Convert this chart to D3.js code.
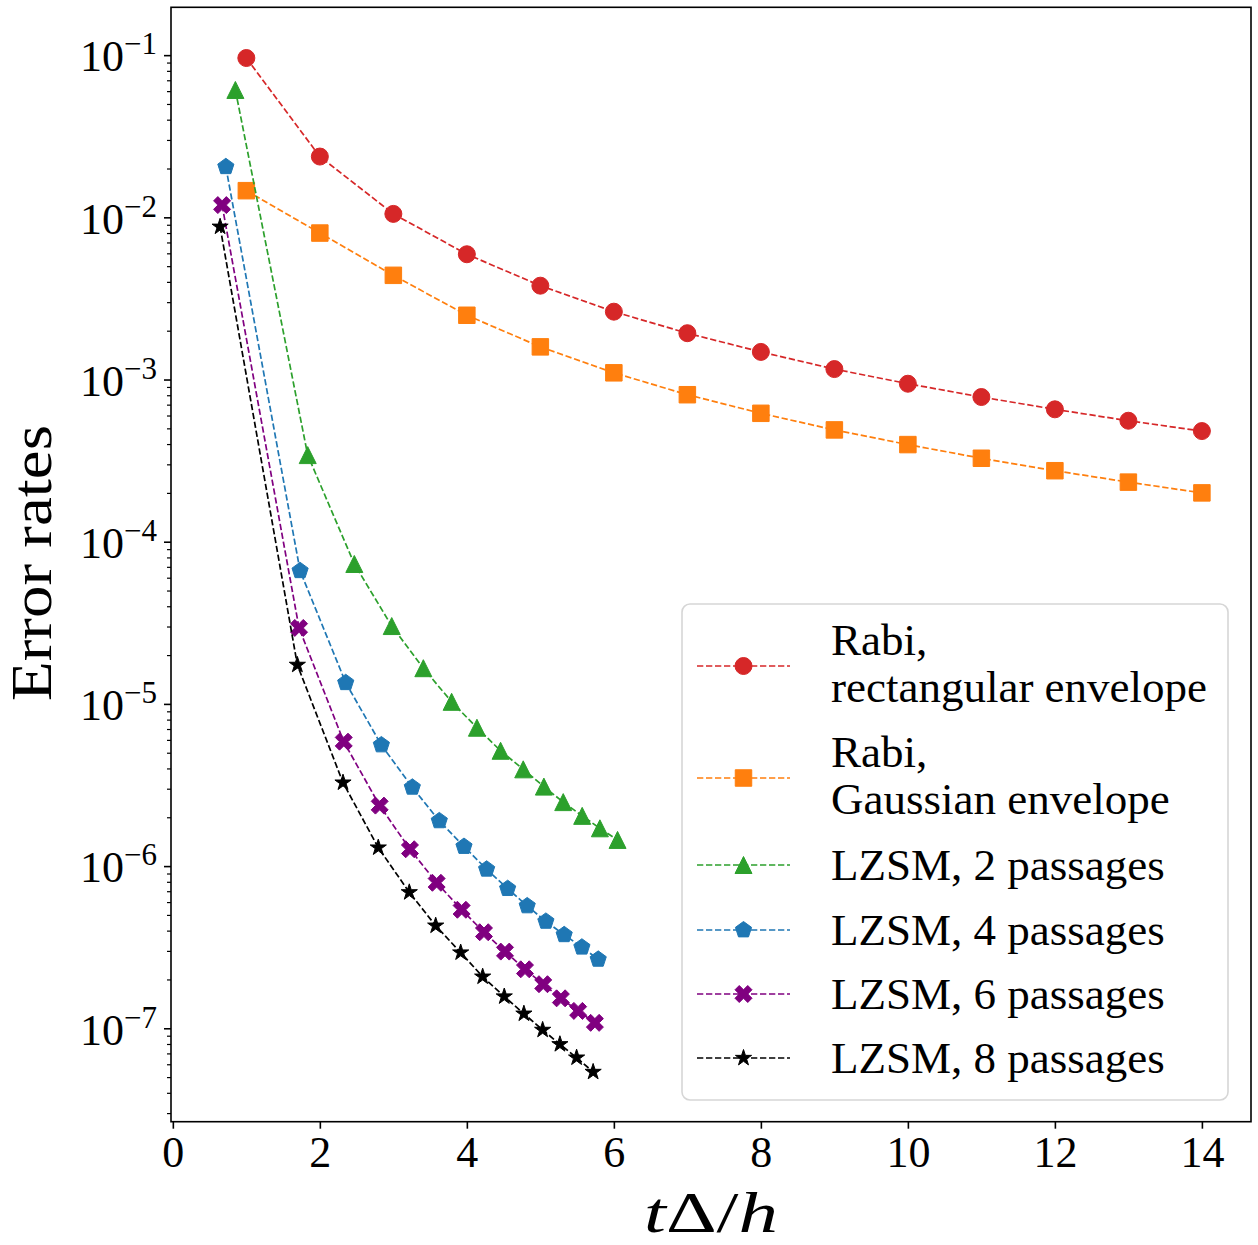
<!DOCTYPE html>
<html>
<head>
<meta charset="utf-8">
<script src="https://cdn.jsdelivr.net/npm/d3@7"></script>
<style>
  html, body { margin: 0; padding: 0; background: #ffffff; }
  svg { display: block; font-family: "Liberation Serif", "DejaVu Serif", serif; }
</style>
</head>
<body>
<div id="chart"></div>
<script>
// ---------------- DATA ----------------
const xTicks = [0, 2, 4, 6, 8, 10, 12, 14];
const yTickExponents = [-1, -2, -3, -4, -5, -6, -7];

const xRabi = [1, 2, 3, 4, 5, 6, 7, 8, 9, 10, 11, 12, 13, 14];
const rabiRect = [9.6e-2, 2.37e-2, 1.05e-2, 5.92e-3, 3.79e-3, 2.62e-3, 1.93e-3, 1.48e-3, 1.16e-3, 9.42e-4, 7.80e-4, 6.55e-4, 5.57e-4, 4.81e-4];
const rabiGauss = [1.46e-2, 8.0e-3, 4.39e-3, 2.49e-3, 1.59e-3, 1.10e-3, 8.06e-4, 6.19e-4, 4.89e-4, 3.97e-4, 3.27e-4, 2.74e-4, 2.33e-4, 2.00e-4];

const xLZ2 = [0.851, 1.835, 2.469, 2.978, 3.408, 3.793, 4.137, 4.459, 4.767, 5.048, 5.311, 5.569, 5.810, 6.050];
const lz2 = [6.1e-2, 3.42e-4, 7.29e-5, 3.02e-5, 1.66e-5, 1.03e-5, 7.13e-6, 5.14e-6, 3.95e-6, 3.09e-6, 2.48e-6, 2.04e-6, 1.71e-6, 1.45e-6];

const xLZ4 = [0.721, 1.731, 2.352, 2.837, 3.258, 3.625, 3.961, 4.269, 4.555, 4.821, 5.075, 5.324, 5.565, 5.787];
const lz4 = [2.05e-2, 6.62e-5, 1.35e-5, 5.58e-6, 3.06e-6, 1.90e-6, 1.32e-6, 9.56e-7, 7.26e-7, 5.68e-7, 4.56e-7, 3.77e-7, 3.16e-7, 2.66e-7];

const xLZ6 = [0.670, 1.717, 2.325, 2.814, 3.226, 3.589, 3.929, 4.233, 4.519, 4.791, 5.039, 5.279, 5.514, 5.742];
const lz6 = [1.19e-2, 2.94e-5, 5.85e-6, 2.36e-6, 1.27e-6, 7.89e-7, 5.38e-7, 3.91e-7, 2.97e-7, 2.31e-7, 1.87e-7, 1.53e-7, 1.28e-7, 1.08e-7];

const xLZ8 = [0.643, 1.694, 2.315, 2.795, 3.217, 3.576, 3.916, 4.215, 4.509, 4.776, 5.031, 5.266, 5.493, 5.718];
const lz8 = [8.75e-3, 1.74e-5, 3.27e-6, 1.30e-6, 6.89e-7, 4.29e-7, 2.93e-7, 2.08e-7, 1.57e-7, 1.23e-7, 9.77e-8, 7.97e-8, 6.59e-8, 5.38e-8];

const seriesLabels = [
  ["Rabi,", "rectangular envelope"],
  ["Rabi,", "Gaussian envelope"],
  ["LZSM, 2 passages"],
  ["LZSM, 4 passages"],
  ["LZSM, 6 passages"],
  ["LZSM, 8 passages"]
];
const seriesColors = ["#d62728", "#ff7f0e", "#2ca02c", "#1f77b4", "#800080", "#000000"];
const seriesMarkers = ["circle", "square", "triangle", "pentagon", "xfilled", "star"];
const seriesX = [xRabi, xRabi, xLZ2, xLZ4, xLZ6, xLZ8];
const seriesY = [rabiRect, rabiGauss, lz2, lz4, lz6, lz8];

// ---------------- LAYOUT ----------------
const W = 1258, H = 1245;
const L = 171, R = 1251, T = 7.3, B = 1121.7;

const svg = d3.select("#chart").append("svg")
  .attr("width", W).attr("height", H).attr("viewBox", `0 0 ${W} ${H}`);
svg.append("rect").attr("width", W).attr("height", H).attr("fill", "#fff");

const x = d3.scaleLinear().domain([-0.025, 14.668]).range([L, R]);
const y = d3.scaleLog().domain([Math.pow(10, -7.576), Math.pow(10, -0.705)]).range([B, T]);

// marker paths (centered at 0,0)
const MS = 17;
function markerPath(type, s) {
  const h = s / 2;
  if (type === "circle") {
    return `M${h},0 A${h},${h} 0 1,1 ${-h},0 A${h},${h} 0 1,1 ${h},0 Z`;
  }
  if (type === "square") {
    const q = h * 0.97;
    return `M${-q},${-q} L${q},${-q} L${q},${q} L${-q},${q} Z`;
  }
  if (type === "triangle") {
    return `M0,${-h} L${h},${h} L${-h},${h} Z`;
  }
  if (type === "pentagon") {
    const pts = d3.range(5).map(k => {
      const a = (-90 + 72 * k) * Math.PI / 180;
      return [h * Math.cos(a), h * Math.sin(a)];
    });
    return "M" + pts.map(p => p.join(",")).join(" L") + " Z";
  }
  if (type === "xfilled") {
    const base = [[0.25, 0], [0.5, 0.25], [0.75, 0], [1, 0.25], [0.75, 0.5], [1, 0.75], [0.75, 1], [0.5, 0.75], [0.25, 1], [0, 0.75], [0.25, 0.5], [0, 0.25]];
    return "M" + base.map(p => [(p[0] - 0.5) * s, (p[1] - 0.5) * s].join(",")).join(" L") + " Z";
  }
  if (type === "star") {
    const ri = h * 0.381966;
    const pts = d3.range(10).map(k => {
      const a = (-90 + 36 * k) * Math.PI / 180;
      const r = k % 2 === 0 ? h : ri;
      return [r * Math.cos(a), r * Math.sin(a)];
    });
    return "M" + pts.map(p => p.join(",")).join(" L") + " Z";
  }
}

// ---------------- SERIES ----------------
const plotG = svg.append("g");

const line = d3.line().x(d => x(d[0])).y(d => y(d[1]));
seriesX.forEach((xs, i) => {
  const data = xs.map((xv, j) => [xv, seriesY[i][j]]);
  const g = plotG.append("g");
  g.append("path")
    .attr("d", line(data))
    .attr("fill", "none")
    .attr("stroke", seriesColors[i])
    .attr("stroke-width", 1.7)
    .attr("stroke-dasharray", "6.3,2.7");
  g.selectAll("path.m").data(data).join("path")
    .attr("class", "m")
    .attr("transform", d => `translate(${x(d[0])},${y(d[1])})`)
    .attr("d", markerPath(seriesMarkers[i], MS))
    .attr("fill", seriesColors[i])
    .attr("stroke", seriesColors[i])
    .attr("stroke-width", 1)
    .attr("stroke-linejoin", "miter");
});

// ---------------- AXES ----------------
const axisFont = 44;
// x axis
const xAxis = svg.append("g").attr("transform", `translate(0,${B})`)
  .call(d3.axisBottom(x).tickValues(xTicks).tickSize(7).tickPadding(7).tickFormat(d3.format("d")));
xAxis.select(".domain").remove();
xAxis.selectAll(".tick line").attr("stroke", "#000").attr("stroke-width", 1.6);
xAxis.selectAll(".tick text")
  .attr("font-size", axisFont)
  .attr("font-family", "'Liberation Serif', serif")
  .attr("fill", "#000");

// y minor ticks
const minorVals = [];
for (let e = -8; e <= 0; e++) {
  for (let m = 2; m <= 9; m++) {
    const v = m * Math.pow(10, e);
    if (v >= y.domain()[0] && v <= y.domain()[1]) minorVals.push(v);
  }
}
const yMinor = svg.append("g").attr("transform", `translate(${L},0)`)
  .call(d3.axisLeft(y).tickValues(minorVals).tickSize(4).tickFormat(""));
yMinor.select(".domain").remove();
yMinor.selectAll(".tick line").attr("stroke", "#000").attr("stroke-width", 1.2);

// y major ticks
const majorVals = yTickExponents.map(e => Math.pow(10, e));
const yAxis = svg.append("g").attr("transform", `translate(${L},0)`)
  .call(d3.axisLeft(y).tickValues(majorVals).tickSize(7).tickPadding(7).tickFormat(""));
yAxis.select(".domain").remove();
yAxis.selectAll(".tick line").attr("stroke", "#000").attr("stroke-width", 1.6);
yAxis.selectAll(".tick text").each(function(d, i) {
  const t = d3.select(this);
  t.attr("font-size", axisFont).attr("fill", "#000").attr("dy", "0.36em")
   .attr("font-family", "'Liberation Serif', serif");
  t.text(null);
  t.append("tspan").text("10");
  t.append("tspan").attr("dy", -17).attr("font-size", 31).text("\u2212" + (-yTickExponents[i]));
});

// frame
svg.append("rect")
  .attr("x", L).attr("y", T).attr("width", R - L).attr("height", B - T)
  .attr("fill", "none").attr("stroke", "#000").attr("stroke-width", 1.6);

// axis labels
svg.append("text")
  .attr("transform", `translate(51,563) rotate(-90)`)
  .attr("text-anchor", "middle")
  .attr("font-size", 57)
  .attr("textLength", 276)
  .attr("lengthAdjust", "spacingAndGlyphs")
  .attr("fill", "#000")
  .text("Error rates");

const xl = svg.append("text")
  .attr("x", 711).attr("y", 1232)
  .attr("text-anchor", "middle")
  .attr("font-size", 56)
  .attr("textLength", 134)
  .attr("lengthAdjust", "spacingAndGlyphs")
  .attr("fill", "#000");
xl.append("tspan").attr("font-style", "italic").text("t");
xl.append("tspan").attr("font-style", "normal").text("\u0394/");
xl.append("tspan").attr("font-style", "italic").text("h");

// ---------------- LEGEND ----------------
const leg = svg.append("g");
leg.append("rect")
  .attr("x", 682).attr("y", 604).attr("width", 546).attr("height", 496)
  .attr("rx", 8).attr("ry", 8)
  .attr("fill", "#fff").attr("fill-opacity", 0.8)
  .attr("stroke", "#d6d6d6").attr("stroke-width", 1.6);

const entryCenters = [666, 778, 865, 930, 994, 1058];
seriesLabels.forEach((lines, i) => {
  const cy = entryCenters[i];
  leg.append("line")
    .attr("x1", 697).attr("x2", 790).attr("y1", cy).attr("y2", cy)
    .attr("stroke", seriesColors[i]).attr("stroke-width", 1.7)
    .attr("stroke-dasharray", "6.3,2.7");
  leg.append("path")
    .attr("transform", `translate(743.5,${cy})`)
    .attr("d", markerPath(seriesMarkers[i], MS))
    .attr("fill", seriesColors[i]).attr("stroke", seriesColors[i]).attr("stroke-width", 1);
  const baselines = lines.length === 2 ? [cy - 11, cy + 36] : [cy + 15];
  lines.forEach((txt, k) => {
    leg.append("text")
      .attr("x", 831).attr("y", baselines[k])
      .attr("font-size", 45).attr("fill", "#000")
      .text(txt);
  });
});
</script>
</body>
</html>
